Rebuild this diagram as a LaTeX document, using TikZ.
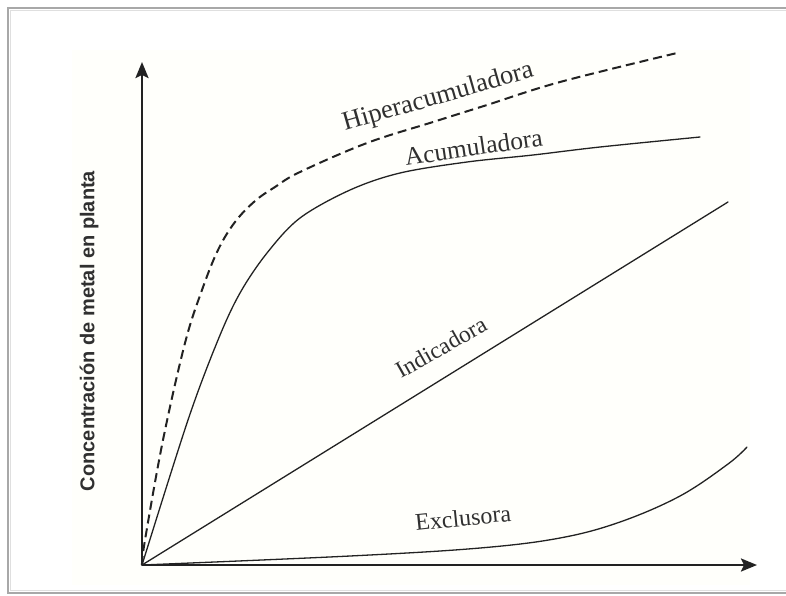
\documentclass[tikz,border=0pt]{standalone}
\usepackage{fontspec}
\setmainfont{Liberation Serif}
\setsansfont{Liberation Sans}
\usetikzlibrary{arrows.meta}
\definecolor{ink}{HTML}{222222}
\definecolor{txt}{HTML}{303030}
\definecolor{frame}{HTML}{A8A8A8}
\definecolor{paper}{HTML}{FFFFFB}
\begin{document}
\begin{tikzpicture}[x=1pt,y=-1pt,
  axis/.style={draw=ink, line width=2.4pt, -{Stealth[length=16pt,width=13pt,inset=3pt]}},
  curve/.style={draw=ink, line width=1.3pt, line cap=round, line join=round},
  hyper/.style={draw=ink, line width=2pt, dash pattern=on 9pt off 5pt},
  lbl/.style={inner sep=0pt, anchor=base west, text=txt},
  ylbl/.style={font=\sffamily\bfseries\fontsize{20}{22}\selectfont, inner sep=0pt, text=txt, rotate=90}]
\useasboundingbox (0,0) rectangle (786,595);
\fill[white] (0,0) rectangle (786,595);
\fill[paper] (72,50) rectangle (750,585);
% frame
\draw[frame, line width=1.5pt] (790,8) -- (8,8) -- (8,593) -- (790,593);
\draw[gray!25, line width=1pt] (790,10.5) -- (10.5,10.5) -- (10.5,590.5) -- (790,590.5);
% origin and axis ends
\coordinate (O) at (142,565);
\coordinate (Ytip) at (142,62);
\coordinate (Xtip) at (757,565);
% curves
\draw[hyper] plot[smooth, tension=0.6] coordinates {(142,565) (145,540) (163,440) (185,343) (202,290) (218,250) (235,222) (255,201) (275,187) (300,172) (367,143) (433,122) (487,105) (560,82) (677,53)};
\draw[curve] plot[smooth, tension=0.55] coordinates {(142,565) (188,420) (218,340) (240,293) (267,253) (300,218) (350,190) (400,173) (467,162) (533,155) (600,147) (700,137)};
\coordinate (Iend) at (728,202);
\draw[curve] (O) -- (Iend);
\draw[curve] plot[smooth, tension=0.6] coordinates {(142,565) (350,556) (480,548) (560,538) (620,522) (680,496) (728,464) (747,447)};
% axes
\draw[axis] (O) -- (Ytip);
\draw[axis] (O) -- (Xtip);
% labels
\node[lbl, font=\fontsize{26.5}{28}\selectfont, rotate=16] (hip) at (345,131) {Hiperacumuladora};
\node[lbl, font=\fontsize{25.5}{27}\selectfont, rotate=8.5] (acu) at (406,166) {Acumuladora};
\node[lbl, font=\fontsize{23.5}{25}\selectfont, rotate=29.5] (ind) at (401,379) {Indicadora};
\node[lbl, font=\fontsize{24}{26}\selectfont, rotate=6] (exc) at (416,531) {Exclusora};
\node[ylbl] (yl) at (89,331) {Concentración de metal en planta};
\end{tikzpicture}
\end{document}
